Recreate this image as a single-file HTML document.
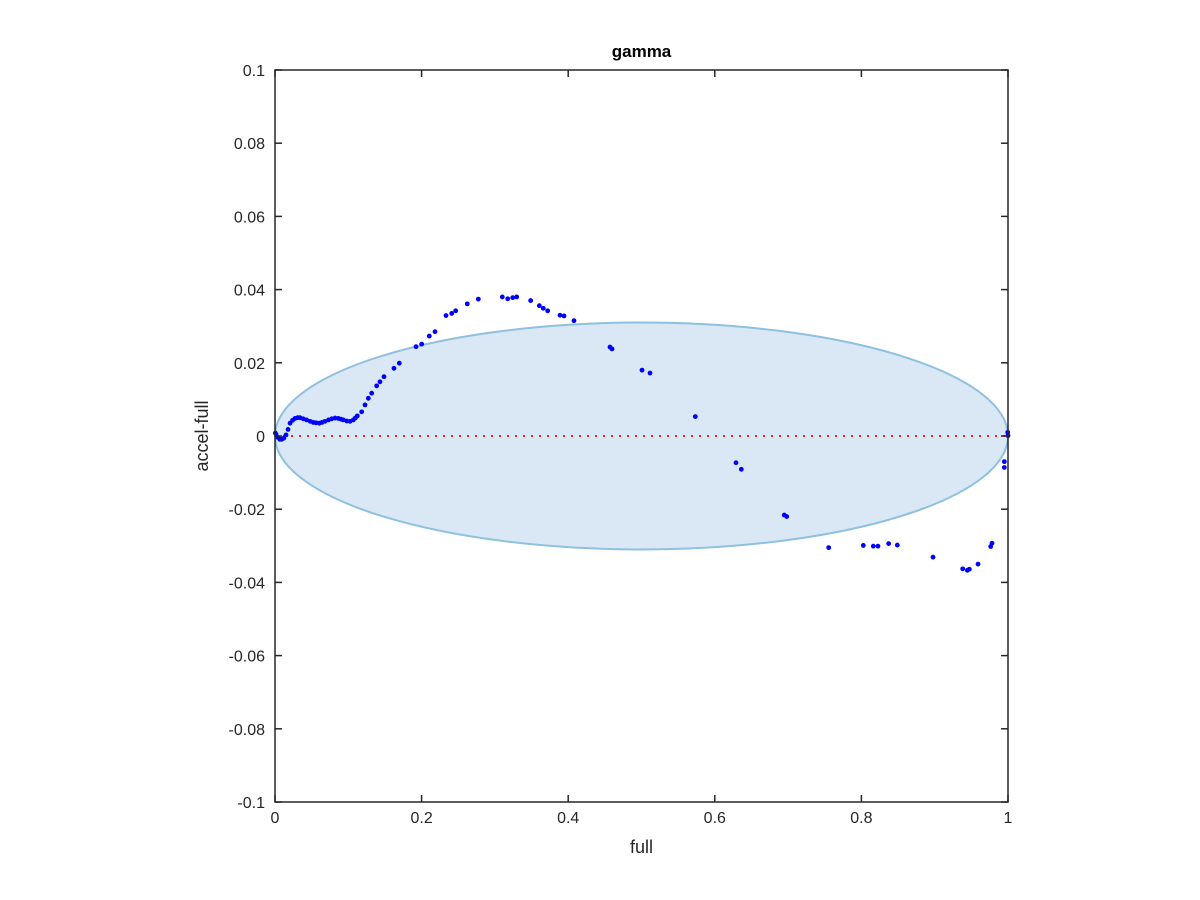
<!DOCTYPE html>
<html><head><meta charset="utf-8"><style>
body{margin:0;background:#fff;}
svg{display:block;font-family:"Liberation Sans",Arial,sans-serif;}
</style></head><body>
<svg id="chart" width="1200" height="900">
<rect width="1200" height="900" fill="#fff"/>
</svg>
<script>
const xs=[0.0005,0.0014,0.004,0.0065,0.0091,0.012,0.015,0.0178,0.0205,0.024,0.0273,0.031,0.0341,0.0385,0.0432,0.048,0.0523,0.056,0.0604,0.064,0.0682,0.073,0.0774,0.082,0.0864,0.09,0.0932,0.098,0.1023,0.1068,0.1095,0.1123,0.1183,0.1228,0.1273,0.1319,0.1387,0.1432,0.1487,0.1623,0.1696,0.1924,0.2001,0.2105,0.2183,0.2333,0.2411,0.2465,0.2623,0.2774,0.3101,0.3175,0.3243,0.3297,0.3488,0.3606,0.366,0.372,0.3888,0.3943,0.4079,0.457,0.4598,0.5007,0.5116,0.5734,0.6289,0.6362,0.6948,0.6981,0.7554,0.8026,0.8162,0.8226,0.8372,0.849,0.8977,0.9382,0.9445,0.9472,0.9591,0.9764,0.9782,0.995,0.995,0.9996,1.0];
const ys=[0.0008,0.0005,-0.0004,-0.0009,-0.0009,-0.0006,0.0003,0.0018,0.0035,0.0043,0.0048,0.005,0.005,0.0047,0.0044,0.004,0.0037,0.0036,0.0035,0.0037,0.004,0.0044,0.0047,0.0049,0.0048,0.0046,0.0044,0.0041,0.004,0.0044,0.0049,0.0055,0.0066,0.0085,0.0103,0.0117,0.0137,0.0148,0.0162,0.0185,0.0199,0.0244,0.0251,0.0273,0.0285,0.0329,0.0335,0.0342,0.0361,0.0374,0.038,0.0375,0.0378,0.038,0.037,0.0356,0.0349,0.0342,0.033,0.0328,0.0315,0.0243,0.0238,0.018,0.0172,0.0053,-0.0073,-0.0091,-0.0216,-0.022,-0.0305,-0.0299,-0.0301,-0.0301,-0.0294,-0.0298,-0.0331,-0.0363,-0.0367,-0.0364,-0.035,-0.0302,-0.0293,-0.007,-0.0086,0.001,0.0001];
const xTicks=[0,0.2,0.4,0.6,0.8,1];
const xTickLabels=["0","0.2","0.4","0.6","0.8","1"];
const yTicks=[-0.1,-0.08,-0.06,-0.04,-0.02,0,0.02,0.04,0.06,0.08,0.1];
const yTickLabels=["-0.1","-0.08","-0.06","-0.04","-0.02","0","0.02","0.04","0.06","0.08","0.1"];
const ellipseCenter=[0.5,0];
const ellipseRadii=[0.5,0.031];

const L=275,R=1008,T=70,B=802;
const sx=v=>L+(v-0)/(1-0)*(R-L);
const sy=v=>B-(v+0.1)/0.2*(B-T);
const svg=document.getElementById('chart');
const NS='http://www.w3.org/2000/svg';
function mk(tag,attrs,parent){const e=document.createElementNS(NS,tag);for(const k in attrs)e.setAttribute(k,attrs[k]);(parent||svg).appendChild(e);return e;}

const ell=mk('ellipse',{cx:sx(ellipseCenter[0]),cy:sy(ellipseCenter[1]),rx:sx(ellipseRadii[0])-sx(0),ry:sy(0)-sy(ellipseRadii[1]),fill:'#d9e8f4',stroke:'#8fc0e0','stroke-width':2});



const zl=mk('line',{x1:sx(0),x2:sx(1),y1:sy(0),y2:sy(0),stroke:'#ff2020','stroke-width':2,'stroke-dasharray':'2 6'});



const g=mk('g',{});


for(let i=0;i<xs.length;i++){
  const c=mk('circle',{cx:sx(xs[i]),cy:sy(ys[i]),r:2.4,fill:'#0000ff'},g);
  
  
}

const box=mk('rect',{x:L,y:T,width:R-L,height:B-T,fill:'none',stroke:'#262626','stroke-width':1.5});



xTicks.forEach((v,i)=>{
  const x=sx(v);
  mk('line',{x1:x,x2:x,y1:B,y2:B-7,stroke:'#262626','stroke-width':1.5});
  mk('line',{x1:x,x2:x,y1:T,y2:T+7,stroke:'#262626','stroke-width':1.5});
  const t=mk('text',{x:x,y:B+21,'text-anchor':'middle','font-size':16,fill:'#262626'});
  t.textContent=xTickLabels[i];
  
  
});
yTicks.forEach((v,i)=>{
  const y=sy(v);
  mk('line',{x1:L,x2:L+7,y1:y,y2:y,stroke:'#262626','stroke-width':1.5});
  mk('line',{x1:R,x2:R-7,y1:y,y2:y,stroke:'#262626','stroke-width':1.5});
  const t=mk('text',{x:L-10,y:y+6,'text-anchor':'end','font-size':16,fill:'#262626'});
  t.textContent=yTickLabels[i];
  
  
});
const title=mk('text',{x:(L+R)/2,y:57,'text-anchor':'middle','font-size':17,'font-weight':'bold',fill:'#000'});
title.textContent='gamma';


const xl=mk('text',{x:(L+R)/2,y:853,'text-anchor':'middle','font-size':18,fill:'#262626'});
xl.textContent='full';


const yl=mk('text',{x:0,y:0,'text-anchor':'middle','font-size':18,fill:'#262626',transform:'translate(208,'+((T+B)/2)+') rotate(-90)'});
yl.textContent='accel-full';


</script>
</body></html>
